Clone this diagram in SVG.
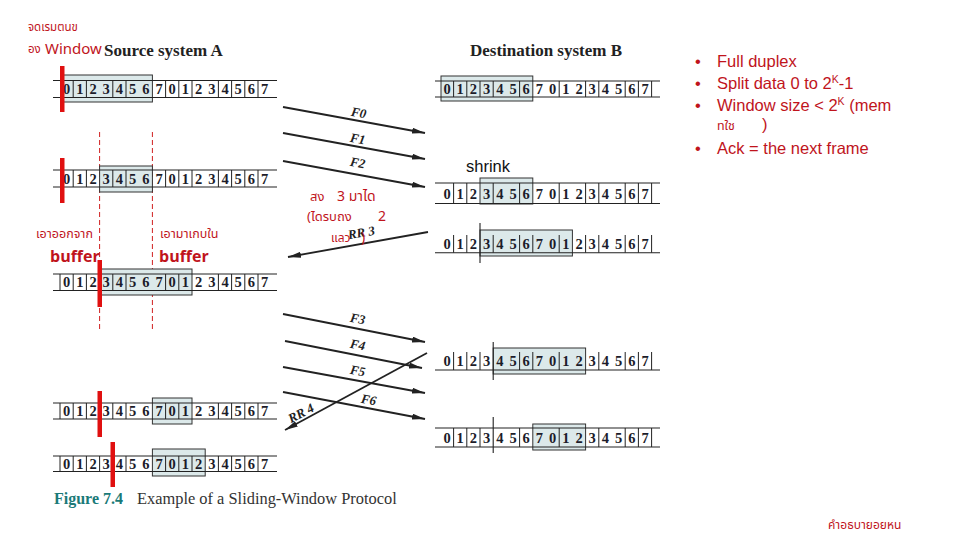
<svg xmlns="http://www.w3.org/2000/svg" width="960" height="540" viewBox="0 0 960 540">
<defs>
<marker id="ah" markerUnits="userSpaceOnUse" markerWidth="13" markerHeight="6" refX="13" refY="3" orient="auto">
<path d="M0,0 L13,3 L0,6 z" fill="#222"/>
</marker>
<style>
.ln{stroke:#222;stroke-width:1.1;fill:none}
.sep{stroke:#222;stroke-width:1;fill:none}
.box{fill:#dce9ea;stroke:#333;stroke-width:1}
.dg{font-family:"Liberation Serif",serif;font-weight:bold;font-size:14.5px;fill:#1c1c2a;text-anchor:middle}
.rb{fill:#e01010}
.arr{stroke:#222;stroke-width:1.8;fill:none;marker-end:url(#ah)}
.fl{font-family:"Liberation Serif",serif;font-weight:bold;font-style:italic;font-size:13px;fill:#222;text-anchor:middle}
.ttl{font-family:"Liberation Serif",serif;font-weight:bold;font-size:17px;fill:#222}
.red{font-family:"Noto Sans Thai","Liberation Sans","DejaVu Sans",sans-serif;fill:#c0141c}
.bul{font-family:"Liberation Sans","Noto Sans Thai",sans-serif;font-size:16.5px;fill:#c0141c}
</style>
</defs>
<rect width="960" height="540" fill="#fff"/>

<!-- annotations top-left -->
<text class="red" x="28" y="31" font-size="11.5">จดเรมตนข</text>
<text class="red" x="28" y="53" font-size="11.5">อง</text>
<text class="red" x="45" y="54" font-size="15">Window</text>
<text class="ttl" x="104" y="56">Source system A</text>
<text class="ttl" x="470" y="56">Destination system B</text>

<!-- dashed guide lines -->
<g id="guides" stroke="#d02020" stroke-width="1" stroke-dasharray="5,3" fill="none">
<path d="M99.6,132 V330 M152.4,132 V330"/>
</g>

<!-- source rows -->
<g id="srcA1">
<rect class="box" x="61" y="75" width="91.4" height="27"/>
<path class="ln" d="M53,80.5 H277 M53,97.5 H277"/>
<path class="sep" d="M73.2,80.5 V97.5 M86.4,80.5 V97.5 M112.8,80.5 V97.5 M126,80.5 V97.5 M165.6,80.5 V97.5 M178.8,80.5 V97.5 M192,80.5 V97.5 M218.4,80.5 V97.5 M231.6,80.5 V97.5 M244.8,80.5 V97.5 M258,80.5 V97.5"/>
<text class="dg" x="66.6 79.8 93 106.2 119.4 132.6 145.8 159 172.2 185.4 198.6 211.8 225 238.2 251.4 264.6" y="94">0123456701234567</text>
<rect class="rb" x="60" y="66" width="4.5" height="46"/>
</g>

<g id="srcA2">
<rect class="box" x="99.6" y="166" width="52.8" height="26"/>
<path class="ln" d="M53,170 H277 M53,187 H277"/>
<path class="sep" d="M73.2,170 V187 M86.4,170 V187 M112.8,170 V187 M126,170 V187 M165.6,170 V187 M178.8,170 V187 M192,170 V187 M218.4,170 V187 M231.6,170 V187 M244.8,170 V187 M258,170 V187"/>
<text class="dg" x="66.6 79.8 93 106.2 119.4 132.6 145.8 159 172.2 185.4 198.6 211.8 225 238.2 251.4 264.6" y="183.5">0123456701234567</text>
<rect class="rb" x="60" y="158" width="4.5" height="45"/>
</g>

<g id="srcA3">
<rect class="box" x="99.6" y="269" width="92.4" height="26"/>
<path class="ln" d="M53,274 H277 M53,290.5 H277"/>
<path class="sep" d="M60,274 V290.5 M73.2,274 V290.5 M86.4,274 V290.5 M112.8,274 V290.5 M126,274 V290.5 M165.6,274 V290.5 M178.8,274 V290.5 M218.4,274 V290.5 M231.6,274 V290.5 M244.8,274 V290.5 M258,274 V290.5"/>
<text class="dg" x="66.6 79.8 93 106.2 119.4 132.6 145.8 159 172.2 185.4 198.6 211.8 225 238.2 251.4 264.6" y="287">0123456701234567</text>
<rect class="rb" x="97.5" y="260" width="4.5" height="47"/>
</g>

<g id="srcA4">
<rect class="box" x="152.4" y="398" width="39.6" height="26"/>
<path class="ln" d="M53,403 H277 M53,419 H277"/>
<path class="sep" d="M60,403 V419 M73.2,403 V419 M86.4,403 V419 M112.8,403 V419 M126,403 V419 M165.6,403 V419 M178.8,403 V419 M218.4,403 V419 M231.6,403 V419 M244.8,403 V419 M258,403 V419"/>
<text class="dg" x="66.6 79.8 93 106.2 119.4 132.6 145.8 159 172.2 185.4 198.6 211.8 225 238.2 251.4 264.6" y="416">0123456701234567</text>
<rect class="rb" x="97.5" y="391" width="4.5" height="46"/>
</g>

<g id="srcA5">
<rect class="box" x="152.4" y="449" width="52.8" height="27"/>
<path class="ln" d="M53,456 H277 M53,471.5 H277"/>
<path class="sep" d="M60,456 V471.5 M73.2,456 V471.5 M86.4,456 V471.5 M99.6,456 V471.5 M126,456 V471.5 M165.6,456 V471.5 M178.8,456 V471.5 M192,456 V471.5 M218.4,456 V471.5 M231.6,456 V471.5 M244.8,456 V471.5 M258,456 V471.5"/>
<text class="dg" x="66.6 79.8 93 106.2 119.4 132.6 145.8 159 172.2 185.4 198.6 211.8 225 238.2 251.4 264.6" y="468.5">0123456701234567</text>
<rect class="rb" x="110.5" y="442" width="4.5" height="45"/>
</g>

<!-- destination rows -->
<g id="dstB1">
<rect class="box" x="441" y="76" width="91.8" height="25"/>
<path class="ln" d="M435,81 H660 M435,97 H660"/>
<path class="sep" d="M453.6,81 V97 M466.8,81 V97 M480,81 V97 M493.2,81 V97 M519.6,81 V97 M559.2,81 V97 M585.6,81 V97 M598.8,81 V97 M625.2,81 V97 M638.4,81 V97 M651.6,81 V97"/>
<text class="dg" x="447 460.2 473.4 486.6 499.8 513 526.2 539.4 552.6 565.8 579 592.2 605.4 618.6 631.8 645" y="94">0123456701234567</text>
</g>

<g id="dstB2">
<rect class="box" x="480" y="178" width="52.8" height="26"/>
<path class="ln" d="M435,183 H660 M435,203.5 H660"/>
<path class="sep" d="M453.6,183 V203.5 M466.8,183 V203.5 M493.2,183 V203.5 M519.6,183 V203.5 M559.2,183 V203.5 M585.6,183 V203.5 M598.8,183 V203.5 M625.2,183 V203.5 M638.4,183 V203.5 M651.6,183 V203.5"/>
<text class="dg" x="447 460.2 473.4 486.6 499.8 513 526.2 539.4 552.6 565.8 579 592.2 605.4 618.6 631.8 645" y="198.5">0123456701234567</text>
</g>

<g id="dstB3">
<rect class="box" x="480" y="230" width="92.4" height="26"/>
<path class="ln" d="M435,252.7 H660 M480,223 V263"/>
<path class="sep" d="M453.6,235 V252.7 M466.8,235 V252.7 M493.2,235 V252.7 M519.6,235 V252.7 M532.8,235 V252.7 M559.2,235 V252.7 M585.6,235 V252.7 M598.8,235 V252.7 M625.2,235 V252.7 M638.4,235 V252.7 M651.6,235 V252.7"/>
<text class="dg" x="447 460.2 473.4 486.6 499.8 513 526.2 539.4 552.6 565.8 579 592.2 605.4 618.6 631.8 645" y="248.5">0123456701234567</text>
</g>

<g id="dstB4">
<rect class="box" x="493.2" y="348" width="92.4" height="26"/>
<path class="ln" d="M435,370 H660 M493.2,342 V380"/>
<path class="sep" d="M453.6,352 V370 M466.8,352 V370 M480,352 V370 M519.6,352 V370 M532.8,352 V370 M559.2,352 V370 M598.8,352 V370 M625.2,352 V370 M638.4,352 V370 M651.6,352 V370"/>
<text class="dg" x="447 460.2 473.4 486.6 499.8 513 526.2 539.4 552.6 565.8 579 592.2 605.4 618.6 631.8 645" y="366">0123456701234567</text>
</g>

<g id="dstB5">
<rect class="box" x="532.8" y="424" width="52.8" height="26"/>
<path class="ln" d="M435,428 H660 M435,447 H660 M493.2,417 V453"/>
<path class="sep" d="M453.6,428 V447 M466.8,428 V447 M480,428 V447 M519.6,428 V447 M559.2,428 V447 M598.8,428 V447 M625.2,428 V447 M638.4,428 V447 M651.6,428 V447"/>
<text class="dg" x="447 460.2 473.4 486.6 499.8 513 526.2 539.4 552.6 565.8 579 592.2 605.4 618.6 631.8 645" y="443">0123456701234567</text>
</g>

<!-- connectors -->
<g id="connectors">
<path class="arr" d="M283,107 L425,133"/>
<path class="arr" d="M283,133 L425,159"/>
<path class="arr" d="M283,161 L425,187"/>
<path class="arr" d="M428,232 L288,257"/>
<path class="arr" d="M283,314 L425,342"/>
<path class="arr" d="M285,341 L422,368"/>
<path class="arr" d="M283,367 L425,393"/>
<path class="arr" d="M283,392 L425,419"/>
<path class="arr" d="M427,353 L285,430"/>
<text class="fl" transform="translate(358,117) rotate(10)">F0</text>
<text class="fl" transform="translate(357,143) rotate(10)">F1</text>
<text class="fl" transform="translate(357,167) rotate(10)">F2</text>
<text class="fl" transform="translate(362,237) rotate(-10)">RR 3</text>
<text class="fl" transform="translate(357,323) rotate(10)">F3</text>
<text class="fl" transform="translate(357,349) rotate(10)">F4</text>
<text class="fl" transform="translate(357,375) rotate(10)">F5</text>
<text class="fl" transform="translate(368,404) rotate(10)">F6</text>
<text class="fl" transform="translate(303,417) rotate(-28)">RR 4</text>
</g>

<!-- red annotations -->
<text class="red" x="310" y="201" font-size="13">สง</text>
<text class="red" x="337" y="201" font-size="14">3 มาได</text>
<text class="red" x="307" y="221" font-size="13">(ไดรบถง</text>
<text class="red" x="378" y="221" font-size="14">2</text>
<text class="red" x="331" y="242" font-size="12">แลว</text>
<text class="red" x="361" y="242" font-size="14">)</text>

<text class="red" x="36" y="238" font-size="12.5">เอาออกจาก</text>
<text class="red" x="160" y="238" font-size="12.5">เอามาเกบใน</text>
<text class="red" x="50" y="262" font-size="16" font-weight="bold">buffer</text>
<text class="red" x="159" y="262" font-size="16" font-weight="bold">buffer</text>

<text x="466" y="172" font-family="Liberation Sans,sans-serif" font-size="16.5" fill="#111">shrink</text>

<!-- bullets -->
<g id="bullets" class="bul">
<text x="695" y="67">•</text>
<text x="717" y="67">Full duplex</text>
<text x="695" y="89">•</text>
<text x="717" y="89">Split data 0 to 2<tspan font-size="10.5" dy="-6">K</tspan><tspan dy="6">-1</tspan></text>
<text x="695" y="111">•</text>
<text x="717" y="111">Window size &lt; 2<tspan font-size="10.5" dy="-6">K</tspan><tspan dy="6"> (mem</tspan></text>
<text x="717" y="130" font-size="12.5">ทใช</text>
<text x="762" y="130">)</text>
<text x="695" y="154">•</text>
<text x="717" y="154">Ack = the next frame</text>
</g>

<!-- caption -->
<text x="54" y="504" font-family="Liberation Serif,serif" font-weight="bold" font-size="16" fill="#1a7a78">Figure 7.4</text>
<text x="137" y="504" font-family="Liberation Serif,serif" font-size="16.4" fill="#333">Example of a Sliding-Window Protocol</text>

<text class="red" x="828" y="529" font-size="12">คำอธบายอยหน</text>
</svg>
